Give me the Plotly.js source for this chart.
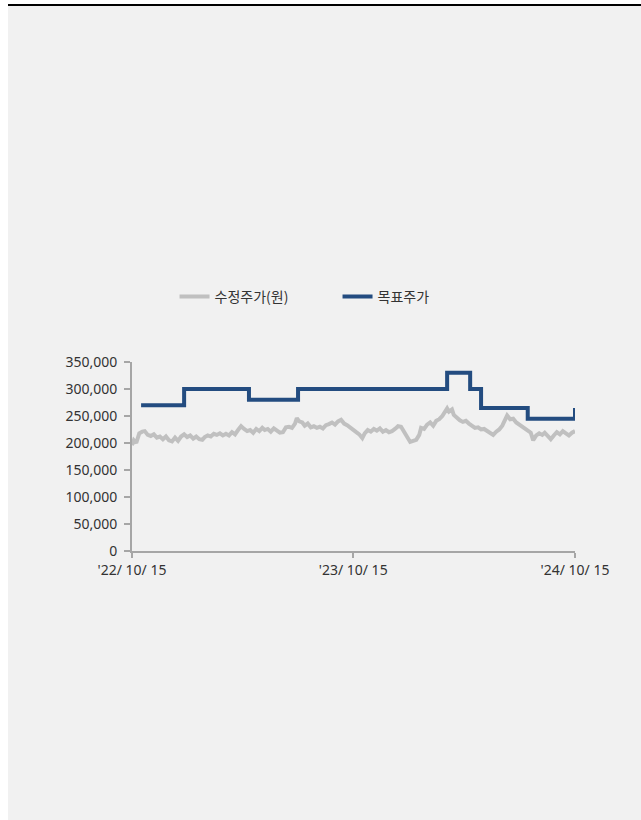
<!DOCTYPE html>
<html>
<head>
<meta charset="utf-8">
<script src="https://cdn.plot.ly/plotly-3.0.1.min.js"></script>
<style>
  html, body { margin: 0; padding: 0; background: #ffffff; }
  #frame { position: absolute; left: 8px; top: 4px; width: 633px; height: 814px; border-top: 2px solid #000; background: #f1f1f1; }
  #chart { width: 633px; height: 814px; }
</style>
</head>
<body>
<div id="frame"><div id="chart"></div></div>
<script>
// 수정주가 (adjusted price, KRW)
const priceDates = [
 '2022-10-15','2022-10-18','2022-10-22','2022-10-27','2022-11-01','2022-11-05','2022-11-10','2022-11-15','2022-11-20','2022-11-25',
 '2022-11-30','2022-12-05','2022-12-10','2022-12-15','2022-12-20','2022-12-25','2022-12-30','2023-01-04','2023-01-09','2023-01-14',
 '2023-01-19','2023-01-24','2023-01-29','2023-02-03','2023-02-08','2023-02-12','2023-02-17','2023-02-22','2023-02-27','2023-03-04',
 '2023-03-09','2023-03-14','2023-03-19','2023-03-24','2023-03-29','2023-04-03','2023-04-08','2023-04-13','2023-04-18','2023-04-23',
 '2023-04-28','2023-05-03','2023-05-08','2023-05-13','2023-05-18','2023-05-22','2023-05-27','2023-06-01','2023-06-06','2023-06-11',
 '2023-06-16','2023-06-21','2023-06-26','2023-07-01','2023-07-06','2023-07-11','2023-07-14','2023-07-18','2023-07-23','2023-07-27',
 '2023-08-01','2023-08-06','2023-08-11','2023-08-16','2023-08-21','2023-08-26','2023-08-31','2023-09-05','2023-09-10','2023-09-15',
 '2023-09-20','2023-09-25','2023-09-30','2023-10-05','2023-10-10','2023-10-15','2023-10-20','2023-10-25','2023-10-30','2023-11-03',
 '2023-11-08','2023-11-13','2023-11-18','2023-11-23','2023-11-28','2023-12-03','2023-12-08','2023-12-13','2023-12-18','2023-12-23',
 '2023-12-28','2024-01-02','2024-01-07','2024-01-12','2024-01-17','2024-01-22','2024-01-27','2024-02-01','2024-02-04','2024-02-09',
 '2024-02-14','2024-02-19','2024-02-24','2024-02-29','2024-03-05','2024-03-10','2024-03-14','2024-03-18','2024-03-21','2024-03-26',
 '2024-03-29','2024-04-03','2024-04-08','2024-04-13','2024-04-18','2024-04-23','2024-04-28','2024-05-03','2024-05-08','2024-05-13',
 '2024-05-18','2024-05-23','2024-05-28','2024-06-02','2024-06-07','2024-06-12','2024-06-17','2024-06-21','2024-06-25','2024-06-30',
 '2024-07-05','2024-07-10','2024-07-15','2024-07-20','2024-07-24','2024-07-29','2024-08-03','2024-08-07','2024-08-12','2024-08-17',
 '2024-08-22','2024-08-26','2024-08-31','2024-09-05','2024-09-10','2024-09-15','2024-09-20','2024-09-25','2024-09-30','2024-10-05',
 '2024-10-10','2024-10-15'
];
const priceValues = [
 196000,205000,200000,218000,221000,222000,215000,213000,216000,210000,
 212000,207000,212000,205000,203000,210000,204000,212000,216000,211000,
 214000,208000,212000,207000,206000,211000,214000,212000,217000,215000,
 218000,214000,217000,214000,220000,216000,224000,231000,226000,222000,
 224000,219000,226000,222000,228000,224000,226000,221000,227000,223000,
 219000,220000,229000,230000,228000,236000,246000,240000,238000,232000,
 236000,229000,231000,228000,230000,227000,233000,235000,238000,234000,
 240000,243000,236000,233000,228000,224000,220000,216000,209000,218000,
 224000,221000,226000,223000,227000,221000,224000,220000,222000,226000,
 231000,230000,220000,212000,202000,204000,206000,215000,228000,226000,
 234000,238000,232000,241000,244000,250000,256000,264000,258000,262000,
 252000,246000,242000,239000,241000,236000,233000,228000,229000,225000,
 226000,222000,220000,215000,221000,225000,232000,240000,251000,244000,
 245000,238000,234000,229000,226000,222000,219000,205000,214000,218000,
 215000,219000,214000,207000,214000,220000,216000,222000,218000,214000,
 219000,222000
];
// 목표주가 (target price, KRW)
const targetDates = ['2022-10-30','2023-01-09','2023-04-26','2023-07-16','2024-03-18','2024-04-25','2024-05-13','2024-07-29','2024-10-15','2024-10-15'];
const targetValues = [270000,300000,280000,300000,330000,300000,265000,245000,245000,265000];
// axis ticks
const xTickVals = ['2022-10-15','2023-10-15','2024-10-15'];
const xTickText = ["'22/ 10/ 15","'23/ 10/ 15","'24/ 10/ 15"];
const yTickVals = [0,50000,100000,150000,200000,250000,300000,350000];

const fontFam = '"Noto Sans", "Noto Sans CJK KR", sans-serif';

const traces = [
  { x: priceDates, y: priceValues, type: 'scatter', mode: 'lines', name: '수정주가(원)',
    line: { color: '#c0c0c0', width: 4 } },
  { x: targetDates, y: targetValues, type: 'scatter', mode: 'lines', name: '목표주가',
    line: { color: '#234c80', width: 4, shape: 'hv' } }
];

const layout = {
  width: 633, height: 814,
  paper_bgcolor: '#f1f1f1', plot_bgcolor: '#f1f1f1',
  margin: { l: 124, r: 66, t: 356, b: 269 },
  font: { family: fontFam, size: 14, color: '#333333' },
  showlegend: true,
  legend: { orientation: 'h', x: 0.096, xanchor: 'left', y: 1.345, yanchor: 'middle',
            bgcolor: 'rgba(0,0,0,0)', font: { family: '"Noto Sans CJK KR", sans-serif', size: 14, color: '#333333' }, entrywidth: 118 },
  xaxis: {
    type: 'date', range: ['2022-10-15','2024-10-15'],
    tickmode: 'array', tickvals: xTickVals, ticktext: xTickText,
    showgrid: false, zeroline: false, showline: true, linecolor: '#a6a6a6', linewidth: 2,
    ticks: 'outside', ticklen: 5, tickcolor: '#a6a6a6', tickwidth: 2,
    tickfont: { size: 14, color: '#333333' }
  },
  yaxis: {
    range: [0, 350000], tickmode: 'array', tickvals: yTickVals, tickformat: ',d',
    showgrid: false, zeroline: false, showline: true, linecolor: '#a6a6a6', linewidth: 2,
    ticks: 'outside', ticklen: 6, tickcolor: '#a6a6a6', tickwidth: 2, ticklabelstandoff: 4,
    tickfont: { size: 14, color: '#333333' }
  }
};

Plotly.newPlot('chart', traces, layout, { displayModeBar: false, staticPlot: true });
</script>
</body>
</html>
